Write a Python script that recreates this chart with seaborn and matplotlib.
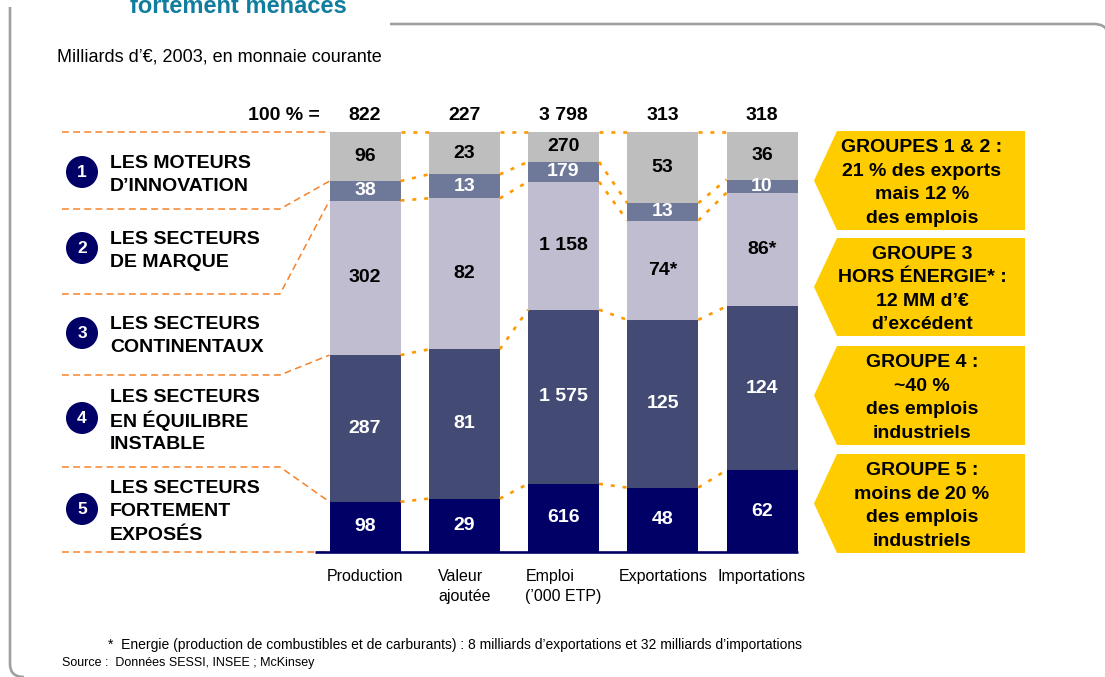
import numpy as np
import pandas as pd
import matplotlib
matplotlib.use("Agg")
import matplotlib.pyplot as plt
import matplotlib.transforms as mtrans
from matplotlib.patches import Polygon, Circle, PathPatch
from matplotlib.path import Path
import seaborn as sns

# ---------------- data ----------------
categories = ["Production", "Valeur\najoutée", "Emploi\n(’000 ETP)", "Exportations", "Importations"]
totals = [822, 227, 3798, 313, 318]
g1_innovation = [96, 23, 270, 53, 36]
g2_marque = [38, 13, 179, 13, 10]
g3_continentaux = [302, 82, 1158, 74, 86]
g4_equilibre = [287, 81, 1575, 125, 124]
g5_exposes = [98, 29, 616, 48, 62]
g3_starred = [False, False, False, True, True]

group_numbers = ["1", "2", "3", "4", "5"]
group_labels = ["LES MOTEURS\nD’INNOVATION",
                "LES SECTEURS\nDE MARQUE",
                "LES SECTEURS\nCONTINENTAUX",
                "LES SECTEURS\nEN ÉQUILIBRE\nINSTABLE",
                "LES SECTEURS\nFORTEMENT\nEXPOSÉS"]
callout_texts = ["GROUPES 1 & 2 :\n21 % des exports\nmais 12 %\ndes emplois",
                 "GROUPE 3\nHORS ÉNERGIE* :\n12 MM d’€\nd’excédent",
                 "GROUPE 4 :\n~40 %\ndes emplois\nindustriels",
                 "GROUPE 5 :\nmoins de 20 %\ndes emplois\nindustriels"]

# ---------------- style ----------------
sns.set_theme(style="white")
plt.rcParams['font.family'] = ['Liberation Sans', 'DejaVu Sans']

W, H = 1105, 677
fig = plt.figure(figsize=(W / 100, H / 100), dpi=100)
fig.patch.set_facecolor("white")
T = mtrans.Affine2D().scale(1 / W, -1 / H).translate(0, 1) + fig.transFigure  # pixel coords

BASE_PX, TOP_PX = 552, 132
ax = fig.add_axes([0, (H - BASE_PX) / H, 1, (BASE_PX - TOP_PX) / H])
X0_PX, STEP_PX = 365, 99.25
BW = 71 / STEP_PX


def xd(px):
    return (px - X0_PX) / STEP_PX


def yd(py):
    return (BASE_PX - py) / (BASE_PX - TOP_PX) * 100


def lines_text(x, ycenter, text, step, **kw):
    """Draw a multi-line text line by line with a fixed pixel step."""
    parts = text.split("\n")
    n = len(parts)
    for j, s in enumerate(parts):
        fig.text(x, ycenter + (j - (n - 1) / 2) * step, s, transform=T,
                 va="center_baseline", **kw)


layers = [  # bottom to top
    (g5_exposes, "#000066", "white"),
    (g4_equilibre, "#434B75", "white"),
    (g3_continentaux, "#C0BDD0", "black"),
    (g2_marque, "#6E7898", "white"),
    (g1_innovation, "#BEBEBE", "black"),
]
sums = np.sum([l[0] for l in layers], axis=0).astype(float)

def fmt(v):
    return f"{v:,}".replace(",", " ")

bottom = np.zeros(len(categories))
cum_tops = []
for k, (vals, col, tcol) in enumerate(layers):
    pct = np.array(vals) / sums * 100
    sns.barplot(x=categories, y=pct, order=categories, bottom=bottom, color=col,
                saturation=1, width=BW, linewidth=0, errorbar=None, ax=ax)
    for i, v in enumerate(vals):
        lab = fmt(v)
        if vals is g3_continentaux and g3_starred[i]:
            lab += "*"
        ax.text(i, bottom[i] + pct[i] / 2, lab, ha="center", va="center",
                color=tcol, fontsize=14, fontweight="bold", zorder=5)
    bottom = bottom + pct
    cum_tops.append(bottom.copy())

ax.set_ylim(0, 100)
ax.set_xlim(xd(0), xd(W))
ax.axis("off")

# baseline
ax.hlines(0, -BW / 2 - 0.146, len(categories) - 1 + BW / 2, color="#000066",
          lw=1.9, clip_on=False, zorder=4)

# connectors between bars
for i in range(len(categories) - 1):
    for k in range(len(layers)):
        ax.plot([i + BW / 2, i + 1 - BW / 2], [cum_tops[k][i], cum_tops[k][i + 1]],
                color="#FF9900", lw=1.9, linestyle=(0, (1.5, 3.0)),
                solid_capstyle="butt", dash_capstyle="butt", clip_on=False, zorder=3)

# left guide lines
row_bounds_px = [132, 209, 294, 375, 467, 552]
prod_bounds = [100] + [cum_tops[k][0] for k in (3, 2, 1, 0)] + [0]
for py, cb in zip(row_bounds_px, prod_bounds):
    ax.plot([xd(62), xd(280), -BW / 2], [yd(py), yd(py), cb],
            color="#F5822A", lw=1.1, linestyle=(0, (4.5, 2.8)), clip_on=False, zorder=3)

# totals row
bt = mtrans.blended_transform_factory(ax.transData, T)
for i, t in enumerate(totals):
    ax.text(i, 115, fmt(t), transform=bt, ha="center", va="center",
            fontsize=14, fontweight="bold", color="black")
fig.text(320, 115, "100 % =", transform=T, ha="right", va="center",
         fontsize=14, fontweight="bold", color="black")

# category labels
for i, c in enumerate(categories):
    ax.text(i, 569, c, transform=bt, ha="center", va="top", multialignment="left",
            fontsize=11.5, color="black", linespacing=1.45)

# left group labels with circles
circle_y = [172, 248, 333, 418, 509]
for n, lab, cy in zip(group_numbers, group_labels, circle_y):
    fig.patches.append(Circle((82, cy), 16, transform=T, facecolor="#000066",
                              edgecolor="none"))
    fig.text(82, cy + 0.5, n, transform=T, ha="center", va="center", color="white",
             fontsize=12.5, fontweight="bold")
    lines_text(110, cy + 1, lab, 23.5, ha="left", color="black",
               fontsize=14, fontweight="bold")

# right callouts
box_tops = [131, 238, 346, 454]
box_bots = [230, 336, 445, 553]
for txt, t0, b0 in zip(callout_texts, box_tops, box_bots):
    poly = Polygon([(814, (t0 + b0) / 2), (837, t0), (1025, t0), (1025, b0), (837, b0)],
                   closed=True, transform=T, facecolor="#FFCC00", edgecolor="none")
    fig.patches.append(poly)
    lines_text(922, (t0 + b0) / 2 + 0.5, txt, 23.5, ha="center", color="black",
               fontsize=14, fontweight="bold")

# frame
frame_col = "#A0A0A0"
p1 = Path([(10, 7), (10, 664), (10, 677), (24, 677)],
          [Path.MOVETO, Path.LINETO, Path.CURVE3, Path.CURVE3])
fig.patches.append(PathPatch(p1, transform=T, facecolor="none", edgecolor=frame_col, lw=1.9))
p2 = Path([(390, 24), (1094, 24), (1105, 24), (1108, 32)],
          [Path.MOVETO, Path.LINETO, Path.CURVE3, Path.CURVE3])
fig.patches.append(PathPatch(p2, transform=T, facecolor="none", edgecolor=frame_col, lw=1.9))

# title (partially cut at top, as in the source slide) and subtitle
fig.text(130, 13, "fortement menacés", transform=T, ha="left", va="baseline",
         fontsize=17, fontweight="bold", color="#117D9E")
fig.text(57, 57, "Milliards d’€, 2003, en monnaie courante", transform=T, ha="left",
         va="center", fontsize=13, color="black")

# footnotes
fig.text(108, 645, "*  Energie (production de combustibles et de carburants) : 8 milliards d’exportations et 32 milliards d’importations",
         transform=T, ha="left", va="center", fontsize=10, color="black")
fig.text(62, 663, "Source :  Données SESSI, INSEE ; McKinsey", transform=T, ha="left",
         va="center", fontsize=9, color="black")

fig.savefig("out.png", dpi=100, facecolor="white")
